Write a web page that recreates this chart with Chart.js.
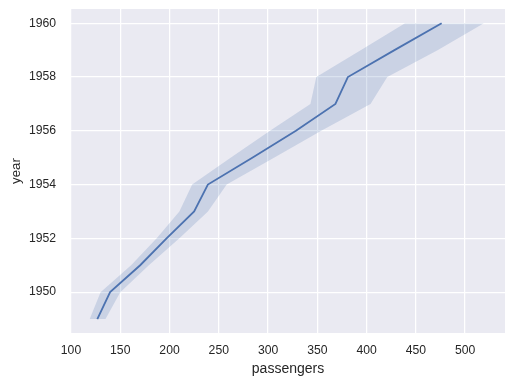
<!DOCTYPE html>
<html>
<head>
<meta charset="utf-8">
<script src="https://cdn.jsdelivr.net/npm/chart.js@4"></script>
<style>
  html, body { margin: 0; padding: 0; background: #fff; }
  #wrap { width: 514px; height: 385px; }
</style>
</head>
<body>
<div id="wrap"><canvas id="chart" width="514" height="385"></canvas></div>
<script>
// yearly mean passengers with its confidence band
const years = [1949, 1950, 1951, 1952, 1953, 1954, 1955, 1956, 1957, 1958, 1959, 1960];
const passengers = [126.7, 139.7, 170.2, 197.0, 225.0, 238.9, 284.0, 328.3, 368.4, 381.0, 428.3, 476.2];
const lowerBand = [119, 130, 161, 187, 210, 223, 262, 302, 343, 349, 394, 439];
const upperBand = [135, 150, 179, 210, 239, 258, 306, 354, 404, 421, 472, 519];
const xTicks = [100, 150, 200, 250, 300, 350, 400, 450, 500];
const yTicks = [1950, 1952, 1954, 1956, 1958, 1960];

const lineColor = "#4C72B0";
const bandColor = "rgba(76, 114, 176, 0.2)";
const textColor = "#262626";
const fontFamily = "'Liberation Sans', Arial, sans-serif";

const toPoints = (values) => values.map((v, i) => ({ x: v, y: years[i] }));

const plotBackground = {
  id: "plotBackground",
  beforeDraw: (chart) => {
    const { ctx, chartArea } = chart;
    ctx.save();
    ctx.fillStyle = "#EAEAF2";
    ctx.fillRect(chartArea.left, chartArea.top,
      chartArea.right - chartArea.left, chartArea.bottom - chartArea.top);
    ctx.restore();
  },
};

// keep the plot box fixed: no extra room for edge labels
const noEdgePadding = (scale) => {
  scale.paddingTop = 0;
  scale.paddingBottom = 0;
  scale.paddingLeft = 0;
  scale.paddingRight = 0;
};

window.onload = () => {
  new Chart(document.getElementById("chart").getContext("2d"), {
    type: "line",
    data: {
      datasets: [
        {
          data: toPoints(passengers),
          borderColor: lineColor,
          borderWidth: 1.8,
          pointRadius: 0,
          fill: false,
        },
        {
          data: toPoints(lowerBand),
          borderWidth: 0,
          borderColor: "rgba(0,0,0,0)",
          pointRadius: 0,
          fill: false,
        },
        {
          data: toPoints(upperBand),
          borderWidth: 0,
          borderColor: "rgba(0,0,0,0)",
          backgroundColor: bandColor,
          pointRadius: 0,
          fill: "-1",
        },
      ],
    },
    options: {
      indexAxis: "y",
      responsive: false,
      animation: false,
      events: [],
      layout: { padding: { top: 9, right: 9, left: 0, bottom: 0 } },
      plugins: {
        legend: { display: false },
        tooltip: { enabled: false },
      },
      scales: {
        x: {
          type: "linear",
          position: "bottom",
          min: 100,
          max: 540.5,
          afterBuildTicks: (scale) => {
            scale.ticks = xTicks.map((v) => ({ value: v }));
          },
          afterFit: (scale) => {
            scale.height = 52;
            noEdgePadding(scale);
          },
          grid: { color: "#ffffff", lineWidth: 1.25, drawTicks: false },
          border: { display: false },
          ticks: {
            padding: 10,
            color: textColor,
            font: { family: fontFamily, size: 12.2 },
            maxRotation: 0,
          },
          title: {
            display: true,
            text: "passengers",
            color: textColor,
            font: { family: fontFamily, size: 14 },
            padding: { top: 0, bottom: 7 },
          },
        },
        y: {
          type: "linear",
          position: "left",
          min: 1948.48,
          max: 1960.53,
          afterBuildTicks: (scale) => {
            scale.ticks = yTicks.map((v) => ({ value: v }));
          },
          afterFit: (scale) => {
            scale.width = 71;
            noEdgePadding(scale);
          },
          grid: { color: "#ffffff", lineWidth: 1.25, drawTicks: false },
          border: { display: false },
          ticks: {
            padding: 15,
            color: textColor,
            font: { family: fontFamily, size: 12.2 },
            callback: (v) => String(v),
          },
          title: {
            display: true,
            text: "year",
            color: textColor,
            font: { family: fontFamily, size: 13.3 },
            padding: { top: 8, bottom: 0 },
          },
        },
      },
    },
    plugins: [plotBackground],
  });
};
</script>
</body>
</html>
